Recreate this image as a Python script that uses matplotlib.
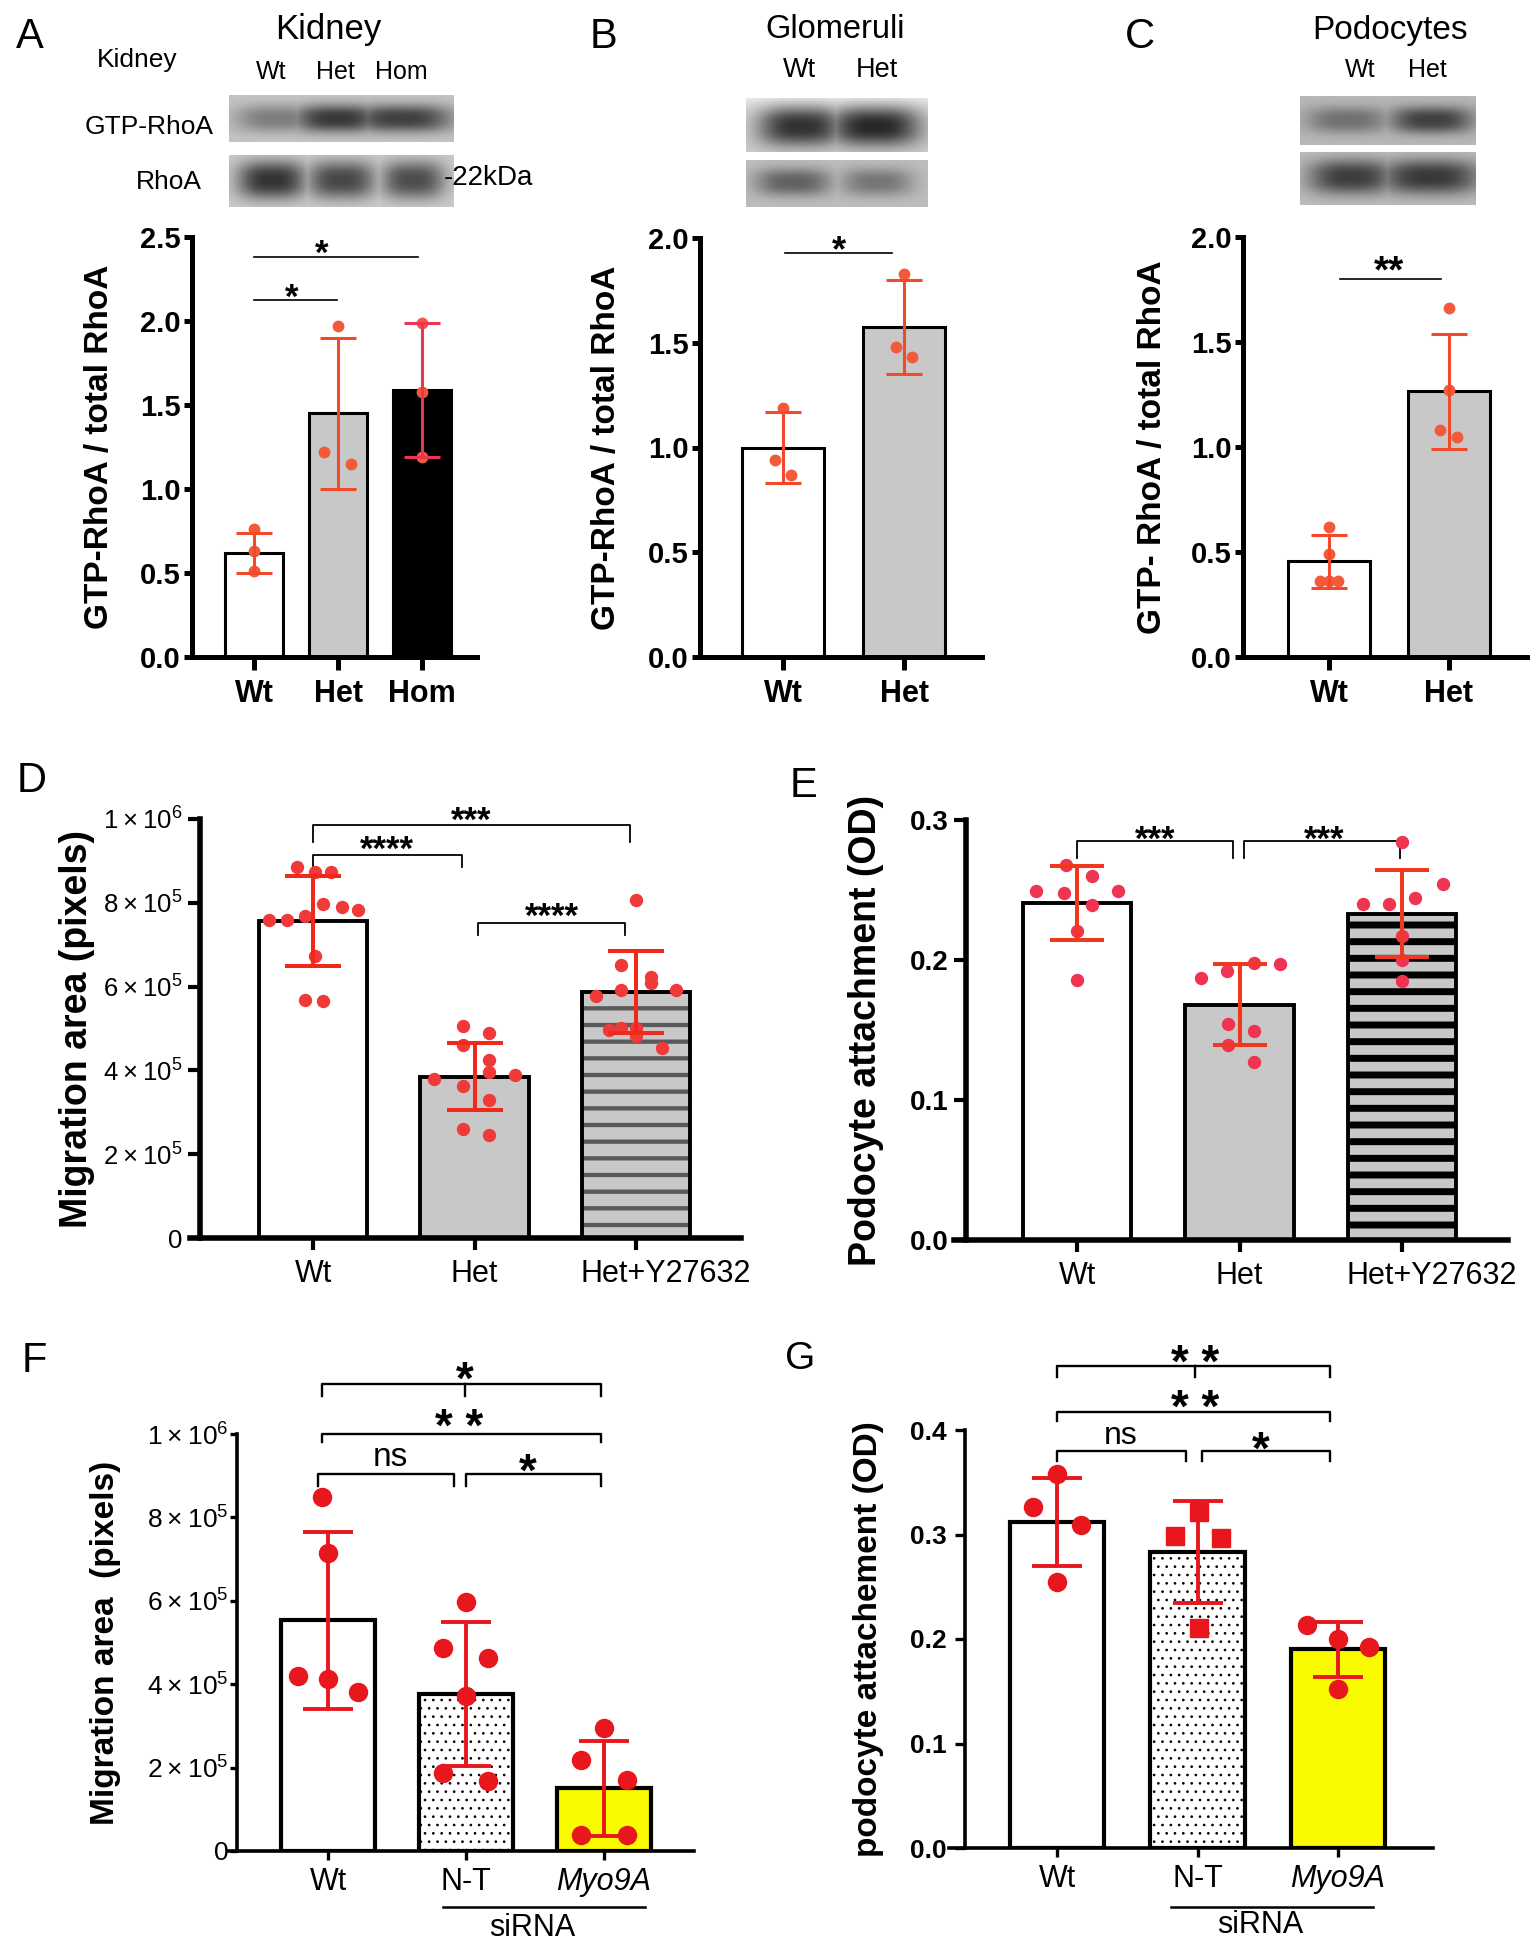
import numpy as np
import matplotlib
matplotlib.use("Agg")
import matplotlib.pyplot as plt
import matplotlib.transforms as mtransforms

plt.rcParams['font.family'] = ['Liberation Sans', 'DejaVu Sans']
plt.rcParams['mathtext.default'] = 'regular'
STAR = ['Liberation Sans', 'DejaVu Sans']

# ---------------- data ----------------
# A  kidney
a_cats = ['Wt', 'Het', 'Hom']
a_mean = [0.62, 1.45, 1.59]
a_sd = [0.12, 0.45, 0.40]
a_pts = [[0.76, 0.63, 0.51], [1.97, 1.22, 1.15], [1.99, 1.58, 1.19]]
a_gtp_band = [0.28, 0.55, 0.52]      # band darkness on blot
a_rhoa_band = [0.60, 0.52, 0.50]

# B  glomeruli
b_cats = ['Wt', 'Het']
b_mean = [1.00, 1.575]
b_sd = [0.17, 0.225]
b_pts = [[1.19, 0.94, 0.87], [1.83, 1.48, 1.43]]
b_gtp_band = [0.62, 0.66]
b_rhoa_band = [0.36, 0.28]

# C  podocytes
c_cats = ['Wt', 'Het']
c_mean = [0.455, 1.265]
c_sd = [0.125, 0.275]
c_pts = [[0.62, 0.49, 0.36, 0.36, 0.36], [1.66, 1.27, 1.08, 1.05]]
c_gtp_band = [0.28, 0.47]
c_rhoa_band = [0.50, 0.52]

# D  migration area (x1e5 pixels)
d_cats = ['Wt', 'Het', 'Het+Y27632']
d_mean = [7.57, 3.85, 5.88]
d_sd = [1.07, 0.80, 0.98]
d_pts = [[8.85, 8.73, 8.73, 7.96, 7.90, 7.82, 7.58, 7.58, 7.69, 6.72, 5.69, 5.65],
         [5.07, 4.89, 4.61, 4.26, 3.95, 3.79, 3.90, 3.62, 3.30, 2.60, 2.45],
         [8.07, 6.52, 6.24, 6.09, 5.91, 5.93, 5.77, 4.97, 5.01, 5.01, 4.81, 4.53]]

# E  podocyte attachment (OD)
e_cats = ['Wt', 'Het', 'Het+Y27632']
e_mean = [0.2405, 0.168, 0.233]
e_sd = [0.0265, 0.029, 0.031]
e_pts = [[0.268, 0.260, 0.249, 0.248, 0.249, 0.239, 0.221, 0.186],
         [0.198, 0.197, 0.192, 0.187, 0.154, 0.149, 0.139, 0.127],
         [0.284, 0.254, 0.244, 0.240, 0.240, 0.217, 0.200, 0.185]]

# F  migration area siRNA (x1e5 pixels)
f_cats = ['Wt', 'N-T', 'Myo9A']
f_mean = [5.53, 3.77, 1.50]
f_sd = [2.13, 1.72, 1.13]
f_pts = [[8.49, 7.14, 4.19, 4.13, 3.82],
         [5.96, 4.88, 4.64, 3.72, 1.87, 1.67],
         [2.94, 2.18, 1.70, 0.38, 0.38]]

# G  podocyte attachement siRNA (OD)
g_cats = ['Wt', 'N-T', 'Myo9A']
g_mean = [0.312, 0.283, 0.190]
g_sd = [0.042, 0.049, 0.026]
g_pts = [[0.358, 0.326, 0.309, 0.255],
         [0.322, 0.299, 0.297, 0.211],
         [0.213, 0.200, 0.192, 0.152]]

# horizontal jitter of the dots (layout only)
a_off = [[0, 0, 0], [0, -0.17, 0.16], [0, 0, 0]]
b_off = [[0, -0.07, 0.07], [0, -0.07, 0.07]]
c_off = [[0, 0, -0.075, 0, 0.075], [0, 0, -0.075, 0.07]]
d_off = [[-0.10, 0.01, 0.11, 0.06, 0.18, 0.28, -0.27, -0.16, -0.05, 0.01, -0.05, 0.06],
         [-0.07, 0.09, -0.07, 0.09, 0.09, -0.25, 0.25, -0.07, 0.09, -0.07, 0.09],
         [0, -0.09, 0.09, 0.09, -0.09, 0.25, -0.25, -0.17, -0.09, 0, 0, 0.16]]
e_off = [[-0.07, 0.09, -0.25, -0.08, 0.25, 0.09, 0, 0],
         [0.09, 0.25, -0.08, -0.24, -0.07, 0.09, -0.07, 0.09],
         [0, 0.25, 0.08, -0.24, -0.08, 0, 0, 0]]
f_off = [[-0.04, 0, -0.22, 0, 0.22], [0, -0.17, 0.16, 0, -0.17, 0.16], [0, -0.17, 0.17, -0.17, 0.17]]
g_off = [[0, -0.17, 0.17, 0], [0.01, -0.16, 0.17, 0.01], [-0.22, 0, 0.22, 0]]

sci_labels = ['0', r'$\mathregular{2\times10^{5}}$', r'$\mathregular{4\times10^{5}}$',
              r'$\mathregular{6\times10^{5}}$', r'$\mathregular{8\times10^{5}}$',
              r'$\mathregular{1\times10^{6}}$']

W, H = 1538, 1950
fig = plt.figure(figsize=(W / 100, H / 100), dpi=100)


def ftext(x, y, s, **kw):
    fig.text(x / W, 1 - y / H, s, **kw)


def make_axes(box, c0, step, ylim, lead=0):
    x0, y0, x1, y1 = box
    ax = fig.add_axes([(x0 - lead) / W, 1 - y1 / H, (x1 - x0 + lead) / W, (y1 - y0) / H])
    ax.patch.set_alpha(0)
    ax.set_xlim((x0 - lead - c0) / step, (x1 - c0) / step)
    ax.set_ylim(*ylim)
    ax.spines[['top', 'right']].set_visible(False)
    if lead:
        ax.spines['left'].set_position(('axes', lead / (x1 - x0 + lead)))
    return ax


def ylabel(ax, box, text, xr, size, lead=0, **kw):
    x0, y0, x1, y1 = box
    ax.set_ylabel(text, fontsize=size, fontweight='bold', **kw)
    ax.yaxis.set_label_coords((xr - (x0 - lead)) / (x1 - x0 + lead), 0.5)


def draw_bars(ax, means, sds, pts, offs, faces, width, blw, ecols, pcol, ms, cap, elw,
              markers=None, hatches=None, scale=1.0):
    x = np.arange(len(means))
    for i in range(len(means)):
        h = hatches[i] if hatches else None
        m = means[i] * scale
        if h:
            bb = ax.bar(x[i], m, width, color=faces[i], edgecolor=h[1], hatch=h[0],
                        linewidth=0, zorder=1)
            for p in bb:
                if hasattr(p, 'set_hatch_linewidth'):
                    p.set_hatch_linewidth(h[2])
            ax.bar(x[i], m, width, fill=False, edgecolor='black', linewidth=blw, zorder=2)
        else:
            ax.bar(x[i], m, width, color=faces[i], edgecolor='black', linewidth=blw, zorder=2)
        mk = markers[i] if markers else 'o'
        ax.plot(x[i] + np.array(offs[i]), np.array(pts[i]) * scale, mk, color=pcol, ms=ms,
                ls='none', zorder=3, clip_on=False)
        ax.errorbar(x[i], m, yerr=sds[i] * scale, color=ecols[i], capsize=cap, elinewidth=elw,
                    capthick=elw, zorder=4, fmt='none')
    ax.set_xticks(x)


def star(ax, x, yc, s, size, k=0.575, family=STAR, weight='bold'):
    ax.annotate(s, (x, yc), xytext=(0, -k * size), textcoords='offset points',
                ha='center', va='baseline', fontsize=size, annotation_clip=False,
                family=family, fontweight=weight)


def bracket(ax, xa, xb, y, yd, lw=1.3, mid=None):
    ax.plot([xa, xa, xb, xb], [yd, y, y, yd], color='black', lw=lw, clip_on=False)
    if mid is not None:
        ax.plot([mid, mid], [y, yd], color='black', lw=lw, clip_on=False)


def shift_label(lab, dx_px):
    lab.set_transform(lab.get_transform() +
                      mtransforms.ScaledTranslation(dx_px / 100, 0, fig.dpi_scale_trans))


def blot(box, lanes, widths, dark, ymid, half_h, bg, top_light=0.0):
    x0, y0, x1, y1 = box
    ax = fig.add_axes([x0 / W, 1 - y1 / H, (x1 - x0) / W, (y1 - y0) / H])
    w, h = int(x1 - x0), int(y1 - y0)
    xx, yy = np.meshgrid(np.linspace(0, 1, w), np.linspace(0, 1, h))
    img = np.full((h, w), bg) + top_light * np.exp(-yy / 0.25)
    shade = np.zeros((h, w))
    for c, bw, d in zip(lanes, widths, dark):
        band = np.exp(-np.abs((xx - c) / (bw / 2)) ** 3 * 0.69) * \
            np.exp(-np.abs((yy - ymid) / half_h) ** 2.5 * 0.69)
        shade = np.maximum(shade, d * band)
    ax.imshow(np.clip(img - shade, 0, 1), cmap='gray', vmin=0, vmax=1, aspect='auto',
              interpolation='bilinear')
    ax.set_axis_off()


RED_A = '#f04a2a'
PT_A = '#f25a3a'
GRAY = '#c8c8c8'

# ---------------- A ----------------
ftext(16, 37, 'A', fontsize=30, va='center')
ftext(328, 30, 'Kidney', fontsize=25, ha='center', va='center')
ftext(137, 60, 'Kidney', fontsize=19, ha='center', va='center')
for lab, xx in zip(a_cats, [271, 335, 401]):
    ftext(xx, 72, lab, fontsize=18, ha='center', va='center')
ftext(214, 127, 'GTP-RhoA', fontsize=19, ha='right', va='center')
ftext(202, 182, 'RhoA', fontsize=19, ha='right', va='center')
ftext(444, 178, '-22kDa', fontsize=20, ha='left', va='center')
blot((229, 95, 454, 142), [0.21, 0.48, 0.77], [0.33, 0.34, 0.40], a_gtp_band, 0.5, 0.26, 0.77)
blot((229, 155, 454, 207), [0.19, 0.50, 0.82], [0.27, 0.27, 0.25], a_rhoa_band, 0.48, 0.32, 0.80)

boxA = (192, 237, 477, 657)
axA = make_axes(boxA, 254, 84, (0, 2.5))
draw_bars(axA, a_mean, a_sd, a_pts, a_off, ['white', GRAY, 'black'], 0.69, 2.2,
          [RED_A, RED_A, '#ea3458'], PT_A, 7.5, 13, 2.2)
axA.set_yticks([0, 0.5, 1.0, 1.5, 2.0, 2.5])
axA.set_yticklabels(['0.0', '0.5', '1.0', '1.5', '2.0', '2.5'], fontsize=21, fontweight='bold')
axA.set_xticklabels(a_cats, fontsize=22, fontweight='bold')
ylabel(axA, boxA, 'GTP-RhoA / total RhoA', 115, 24)
axA.plot([0, 0.99], [2.125, 2.125], color='black', lw=1.2)
star(axA, 0.45, 2.20, '*', 25)
axA.plot([0, 1.95], [2.38, 2.38], color='black', lw=1.2)
star(axA, 0.80, 2.46, '*', 25)

# ---------------- B ----------------
ftext(590, 37, 'B', fontsize=30, va='center')
ftext(835, 30, 'Glomeruli', fontsize=23.5, ha='center', va='center')
for lab, xx in zip(b_cats, [799, 877]):
    ftext(xx, 70, lab, fontsize=19.5, ha='center', va='center')
blot((746, 98, 928, 152), [0.30, 0.71], [0.41, 0.44], b_gtp_band, 0.52, 0.32, 0.80, 0.12)
blot((746, 160, 928, 207), [0.26, 0.72], [0.37, 0.35], b_rhoa_band, 0.47, 0.26, 0.74)

boxB = (700, 238, 982, 657)
axB = make_axes(boxB, 783, 121, (0, 2.0))
draw_bars(axB, b_mean, b_sd, b_pts, b_off, ['white', GRAY], 0.67, 2.2,
          [RED_A, RED_A], PT_A, 7.5, 13, 2.2)
axB.set_yticks([0, 0.5, 1.0, 1.5, 2.0])
axB.set_yticklabels(['0.0', '0.5', '1.0', '1.5', '2.0'], fontsize=21, fontweight='bold')
axB.set_xticklabels(b_cats, fontsize=22, fontweight='bold')
ylabel(axB, boxB, 'GTP-RhoA / total RhoA', 622, 24)
axB.plot([0.02, 0.90], [1.93, 1.93], color='black', lw=1.2)
star(axB, 0.46, 1.99, '*', 26)

# ---------------- C ----------------
ftext(1125, 37, 'C', fontsize=30, va='center')
ftext(1390, 30, 'Podocytes', fontsize=24, ha='center', va='center')
for lab, xx in zip(c_cats, [1360, 1427]):
    ftext(xx, 70, lab, fontsize=18, ha='center', va='center')
blot((1300, 96, 1476, 145), [0.27, 0.75], [0.42, 0.42], c_gtp_band, 0.49, 0.24, 0.72)
blot((1300, 152, 1476, 205), [0.29, 0.74], [0.43, 0.50], c_rhoa_band, 0.47, 0.29, 0.74)

boxC = (1243, 237, 1527, 657)
axC = make_axes(boxC, 1329, 120, (0, 2.0))
draw_bars(axC, c_mean, c_sd, c_pts, c_off, ['white', GRAY], 0.68, 2.2,
          [RED_A, RED_A], PT_A, 7.5, 13, 2.2)
axC.set_yticks([0, 0.5, 1.0, 1.5, 2.0])
axC.set_yticklabels(['0.0', '0.5', '1.0', '1.5', '2.0'], fontsize=21, fontweight='bold')
axC.set_xticklabels(c_cats, fontsize=22, fontweight='bold')
ylabel(axC, boxC, 'GTP- RhoA / total RhoA', 1168, 24)
axC.plot([0.09, 0.93], [1.80, 1.80], color='black', lw=1.2)
star(axC, 0.50, 1.89, '**', 28)

for ax in (axA, axB, axC):
    for s in ('left', 'bottom'):
        ax.spines[s].set_linewidth(3.6)
    ax.tick_params(axis='y', length=6, width=3.6, pad=2)
    ax.tick_params(axis='x', length=9, width=3.6, pad=7)

# ---------------- D ----------------
ftext(17, 781, 'D', fontsize=30, va='center')
boxD = (200, 819, 741, 1238)
axD = make_axes(boxD, 313, 161.5, (0, 1e6), lead=10)
draw_bars(axD, d_mean, d_sd, d_pts, d_off, ['white', GRAY, GRAY], 0.67, 2.8,
          ['#f02a1a'] * 3, '#f03a3a', 8.6, 20, 2.9,
          hatches=[None, None, ('-', '#5a5a5a', 3.1)], scale=1e5)
axD.set_yticks([0, 2e5, 4e5, 6e5, 8e5, 1e6])
axD.set_yticklabels(sci_labels, fontsize=18.5)
axD.set_xticklabels(d_cats, fontsize=22)
ylabel(axD, boxD, 'Migration area (pixels)', 95, 27, lead=10)
bracket(axD, 0, 1.96, 0.986e6, 0.946e6)
star(axD, 0.98, 1.019e6, '***', 25)
bracket(axD, 0, 0.92, 0.914e6, 0.885e6)
star(axD, 0.46, 0.95e6, '****', 25)
bracket(axD, 1.02, 1.93, 0.752e6, 0.723e6)
star(axD, 1.48, 0.79e6, '****', 25)

# ---------------- E ----------------
ftext(790, 786, 'E', fontsize=30, va='center')
boxE = (966, 820, 1508, 1240)
axE = make_axes(boxE, 1077, 162.5, (0, 0.3), lead=12)
draw_bars(axE, e_mean, e_sd, e_pts, e_off, ['white', GRAY, GRAY], 0.665, 2.8,
          ['#f0381f'] * 3, '#ee3450', 8.6, 19.5, 2.9,
          hatches=[None, None, ('-', 'black', 5.0)])
axE.set_yticks([0, 0.1, 0.2, 0.3])
axE.set_yticklabels(['0.0', '0.1', '0.2', '0.3'], fontsize=20, fontweight='bold')
axE.set_xticklabels(e_cats, fontsize=22)
ylabel(axE, boxE, 'Podocyte attachment (OD)', 884, 27, lead=12)
bracket(axE, 0, 0.96, 0.285, 0.273)
star(axE, 0.48, 0.293, '***', 25)
bracket(axE, 1.03, 1.99, 0.285, 0.273)
star(axE, 1.52, 0.293, '***', 25)

for ax in (axD, axE):
    for s in ('left', 'bottom'):
        ax.spines[s].set_linewidth(4.0)
    ax.tick_params(axis='y', length=8.6, width=3.0, pad=4)
    ax.tick_params(axis='x', length=8.6, width=3.0, pad=6.5)
    shift_label(ax.get_xticklabels()[2], 30)

# ---------------- F ----------------
ftext(22, 1361, 'F', fontsize=30, va='center')
boxF = (237, 1434, 694, 1851)
axF = make_axes(boxF, 328, 138, (0, 1e6), lead=9)
draw_bars(axF, f_mean, f_sd, f_pts, f_off, ['white', 'white', '#fafa00'], 0.675, 3.0,
          ['#e8171e'] * 3, '#e8171e', 13, 18, 2.8,
          hatches=[None, ('..', 'black', 0.7), None], scale=1e5)
axF.set_yticks([0, 2e5, 4e5, 6e5, 8e5, 1e6])
axF.set_yticklabels(sci_labels, fontsize=19)
axF.set_xticklabels(f_cats, fontsize=22)
axF.get_xticklabels()[2].set_fontstyle('italic')
shift_label(axF.get_xticklabels()[2], 12)
ylabel(axF, boxF, 'Migration area  (pixels)', 121, 24, lead=9)
bracket(axF, -0.04, 1.98, 1.121e6, 1.092e6, lw=1.7, mid=0.99)
star(axF, 0.99, 1.161e6, '*', 33)
bracket(axF, -0.04, 1.98, 1.0e6, 0.98e6, lw=1.7)
star(axF, 0.95, 1.046e6, '* *', 33)
bracket(axF, -0.07, 0.91, 0.905e6, 0.876e6, lw=1.7)
star(axF, 0.45, 0.945e6, 'ns', 24, k=0.27, family=None, weight='normal')
bracket(axF, 1.0, 1.98, 0.905e6, 0.876e6, lw=1.7)
star(axF, 1.45, 0.94e6, '*', 33)
trF = axF.get_xaxis_transform()
axF.plot([0.83, 2.30], [-0.134, -0.134], color='black', lw=1.8, transform=trF, clip_on=False)
axF.text(1.48, -0.185, 'siRNA', fontsize=22, ha='center', va='center', transform=trF)

# ---------------- G ----------------
ftext(785, 1359, 'G', fontsize=28, va='center')
boxG = (965, 1430, 1433, 1848)
axG = make_axes(boxG, 1057, 140.5, (0, 0.4), lead=16)
draw_bars(axG, g_mean, g_sd, g_pts, g_off, ['white', 'white', '#fafa00'], 0.67, 3.0,
          ['#e8171e'] * 3, '#e8171e', 13, 18, 2.8, markers=['o', 's', 'o'],
          hatches=[None, ('..', 'black', 0.7), None])
axG.set_yticks([0, 0.1, 0.2, 0.3, 0.4])
axG.set_yticklabels(['0.0', '0.1', '0.2', '0.3', '0.4'], fontsize=19, fontweight='bold')
axG.set_xticklabels(g_cats, fontsize=22)
axG.get_xticklabels()[2].set_fontstyle('italic')
ylabel(axG, boxG, 'podocyte attachement (OD)', 884, 24, lead=16)
bracket(axG, 0, 1.94, 0.461, 0.451, lw=1.7, mid=0.98)
star(axG, 0.98, 0.476, '* *', 33)
bracket(axG, 0, 1.94, 0.417, 0.409, lw=1.7)
star(axG, 0.98, 0.433, '* *', 33)
bracket(axG, 0, 0.92, 0.380, 0.370, lw=1.7)
star(axG, 0.45, 0.395, 'ns', 23, k=0.27, family=None, weight='normal')
bracket(axG, 1.03, 1.94, 0.380, 0.370, lw=1.7)
star(axG, 1.45, 0.393, '*', 33)
trG = axG.get_xaxis_transform()
axG.plot([0.81, 2.25], [-0.141, -0.141], color='black', lw=1.8, transform=trG, clip_on=False)
axG.text(1.45, -0.184, 'siRNA', fontsize=22, ha='center', va='center', transform=trG)

for ax in (axF, axG):
    for s in ('left', 'bottom'):
        ax.spines[s].set_linewidth(2.6)
    ax.tick_params(axis='x', length=6.6, width=2.4, pad=5)
axF.tick_params(axis='y', length=5, width=2.4, pad=1)
axG.tick_params(axis='y', length=7, width=2.4, pad=6)

fig.savefig('out.png', dpi=100)
